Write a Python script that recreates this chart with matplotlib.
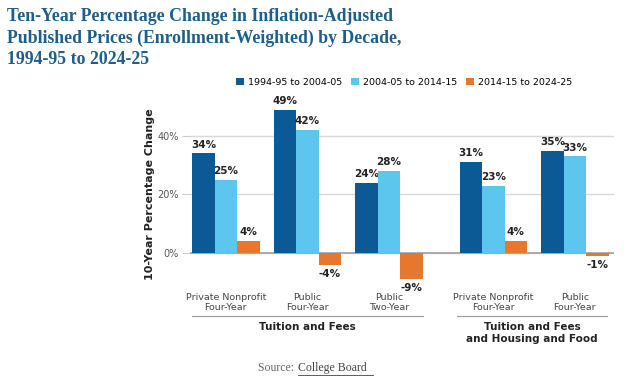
import numpy as np
import matplotlib.pyplot as plt

categories = ["Private Nonprofit\nFour-Year", "Public\nFour-Year", "Public\nTwo-Year",
              "Private Nonprofit\nFour-Year", "Public\nFour-Year"]
series_names = ["1994-95 to 2004-05", "2004-05 to 2014-15", "2014-15 to 2024-25"]
decade_1 = [34, 49, 24, 31, 35]
decade_2 = [25, 42, 28, 23, 33]
decade_3 = [4, -4, -9, 4, -1]
group_names = ["Tuition and Fees", "Tuition and Fees\nand Housing and Food"]

colors = ["#0b5a96", "#5cc6ee", "#e8772e"]
title_color = "#1d5f8a"

x = np.array([0, 1, 2, 3.28, 4.28])
w = 0.275

fig = plt.figure(figsize=(6.24, 3.82), dpi=100)
ax = fig.add_axes([0.3045, 0.261, 0.6795, 0.46])

for i, vals in enumerate([decade_1, decade_2, decade_3]):
    bars = ax.bar(x + (i - 1) * w, vals, w, color=colors[i], label=series_names[i], zorder=3)
    for b, v in zip(bars, vals):
        if v >= 0:
            ax.text(b.get_x() + w / 2, v + 1.3, f"{v}%", ha="center", va="bottom",
                    fontsize=7.5, fontweight="bold", color="#222222")
        else:
            ax.text(b.get_x() + w / 2, v - 1.3, f"{v}%", ha="center", va="top",
                    fontsize=7.5, fontweight="bold", color="#222222")

ax.set_xlim(-0.44, 4.76)
ax.set_ylim(-10, 50)
ax.set_yticks([0, 20, 40])
ax.set_yticklabels(["0%", "20%", "40%"])
ax.tick_params(axis="y", length=6, color="#cccccc", labelsize=7, labelcolor="#555555", pad=2)
ax.set_xticks([])
ax.grid(axis="y", color="#d9d9d9", linewidth=1, zorder=0)
ax.axhline(0, color="#a0a0a0", linewidth=1.2, zorder=2)
for s in ax.spines.values():
    s.set_visible(False)
ax.set_ylabel("10-Year Percentage Change", fontsize=8, fontweight="bold", color="#222222", labelpad=2)

# category labels below the plot
for xi, c in zip(x, categories):
    ax.text(xi, -13.5, c, ha="center", va="top", fontsize=6.8, color="#444444", linespacing=1.25)

# group separators and labels
for lo, hi, name in [(-0.41, 2.42, group_names[0]), (2.83, 4.68, group_names[1])]:
    ax.plot([lo, hi], [-21.5, -21.5], color="#999999", linewidth=0.8, clip_on=False)
    ax.text((lo + hi) / 2, -23.5, name, ha="center", va="top", fontsize=7.5,
            fontweight="bold", color="#222222", linespacing=1.3)

fig.text(0.011, 0.978, "Ten-Year Percentage Change in Inflation-Adjusted\n"
         "Published Prices (Enrollment-Weighted) by Decade,\n1994-95 to 2024-25",
         ha="left", va="top", fontsize=12.8, fontweight="bold", family="Liberation Serif",
         color=title_color, linespacing=1.3)

ax.legend(loc="lower left", bbox_to_anchor=(0.1, 1.09), ncol=3, frameon=False,
          fontsize=6.8, handlelength=0.8, handleheight=0.8, handletextpad=0.4,
          columnspacing=1.0, borderaxespad=0)

fig.text(0.413, 0.022, "Source: ", ha="left", va="bottom", fontsize=8.5,
         family="Liberation Serif", color="#666666")
fig.text(0.478, 0.022, "College Board", ha="left", va="bottom", fontsize=8.5,
         family="Liberation Serif", color="#444444")
fig.add_artist(plt.Line2D([0.478, 0.598], [0.019, 0.019], color="#444444", linewidth=0.6))

fig.savefig("out.png", dpi=100)
